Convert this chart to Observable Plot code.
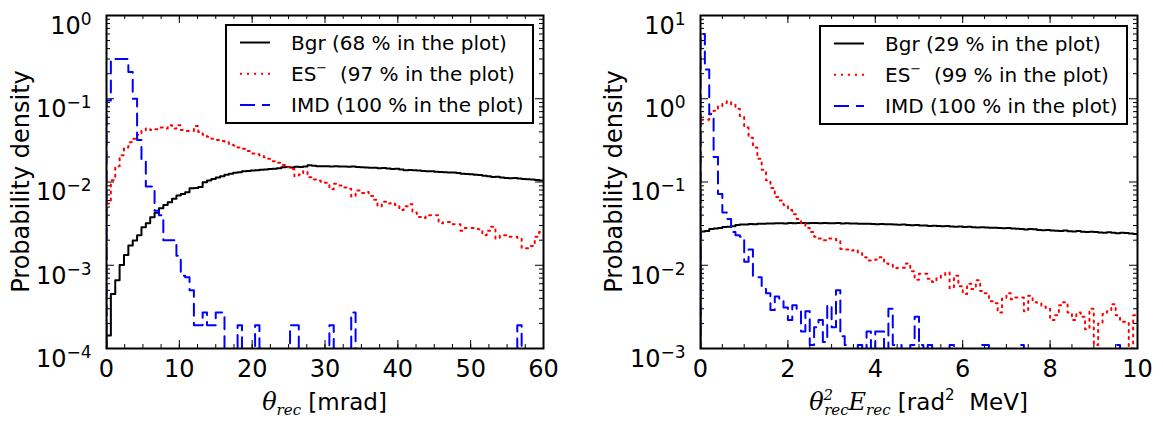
<!DOCTYPE html>
<html><head><meta charset="utf-8">
<script src="https://cdn.jsdelivr.net/npm/d3@7"></script>
<script src="https://cdn.jsdelivr.net/npm/@observablehq/plot@0.6"></script>
<style>
body{margin:0;background:#fff;}
#wrap{width:1163px;height:421px;display:flex;}
</style></head><body><div id="wrap"></div>
<script>
// ---------------- data ----------------
// Left panel: theta_rec [mrad], bins of 0.6 mrad from 0 to 60
const thetaBinWidth = 0.6;
const thetaBgr = [
 1.43e-4,4.5e-4,6.6e-4,1.01e-3,1.33e-3,1.73e-3,1.98e-3,2.3e-3,2.86e-3,3.2e-3,
 3.78e-3,4.26e-3,4.85e-3,5.3e-3,5.7e-3,6.3e-3,6.9e-3,7.2e-3,7.55e-3,8.4e-3,
 8.5e-3,8.7e-3,9.95e-3,1.04e-2,1.09e-2,1.13e-2,1.17e-2,1.22e-2,1.26e-2,1.29e-2,
 1.31e-2,1.35e-2,1.36e-2,1.37e-2,1.38e-2,1.40e-2,1.41e-2,1.43e-2,1.44e-2,1.46e-2,
 1.50e-2,1.51e-2,1.49e-2,1.52e-2,1.51e-2,1.53e-2,1.59e-2,1.57e-2,1.55e-2,1.55e-2,
 1.55e-2,1.54e-2,1.55e-2,1.54e-2,1.53e-2,1.52e-2,1.53e-2,1.51e-2,1.50e-2,1.49e-2,
 1.48e-2,1.48e-2,1.46e-2,1.47e-2,1.45e-2,1.43e-2,1.44e-2,1.41e-2,1.38e-2,1.39e-2,
 1.38e-2,1.37e-2,1.36e-2,1.35e-2,1.35e-2,1.33e-2,1.32e-2,1.31e-2,1.30e-2,1.30e-2,
 1.28e-2,1.26e-2,1.25e-2,1.24e-2,1.22e-2,1.21e-2,1.19e-2,1.17e-2,1.15e-2,1.16e-2,
 1.13e-2,1.12e-2,1.11e-2,1.12e-2,1.10e-2,1.09e-2,1.08e-2,1.07e-2,1.06e-2,1.04e-2];
const thetaES = [
 0.0055,0.0105,0.0155,0.021,0.026,0.030,0.033,0.037,0.041,0.044,
 0.042,0.043,0.045,0.044,0.048,0.044,0.048,0.042,0.041,0.041,
 0.047,0.040,0.037,0.035,0.033,0.032,0.031,0.030,0.028,0.0275,
 0.026,0.025,0.0235,0.022,0.0215,0.0205,0.0198,0.019,0.0178,0.017,
 0.016,0.015,0.0143,0.0117,0.0123,0.0135,0.0114,0.0107,0.0104,0.0101,
 0.0098,0.0082,0.0095,0.0091,0.0086,0.0083,0.0067,0.0079,0.0074,0.0076,
 0.0068,0.0061,0.0051,0.0058,0.0055,0.0056,0.0053,0.0046,0.0051,0.0054,
 0.0043,0.0038,0.0037,0.0040,0.0040,0.0040,0.0032,0.0033,0.0033,0.0031,
 0.0031,0.0026,0.0028,0.0028,0.0028,0.0027,0.0023,0.0026,0.0029,0.0021,
 0.0023,0.0023,0.0022,0.0022,0.0021,0.0016,0.0016,0.0017,0.0022,0.0025];
const thetaIMD = [
 0.095,0.30,0.30,0.30,0.30,0.21,0.10,0.032,0.018,0.0088,
 0.0088,0.0045,0.0040,0.0020,0.0020,0.0020,0.0013,0.00075,0.00072,0.0005,
 0.00019,0.00019,0.00027,0.00019,0.00019,0.00027,0.00027,0,0,0,
 0.00019,0,0,0,0.00019,0,0,0,0,0,
 0,0,0.00019,0.00019,0,0,0,0,0,0,
 0,0.00019,0,0,0,0,0.00027,0,0,0,
 0,0,0,0,0,0,0,0,0,0,
 0,0,0,0,0,0,0,0,0,0,
 0,0,0,0,0,0,0,0,0,0,
 0,0,0,0,0.00019,0,0,0,0,0];

// Right panel: theta^2 E [rad^2 MeV], bins of 0.1 from 0 to 10
const eBinWidth = 0.1;
const eBgr = [
 0.0255,0.0258,0.0272,0.0277,0.0280,0.0288,0.0291,0.0295,0.0305,0.0308,
 0.0309,0.0312,0.0311,0.0315,0.0316,0.0318,0.0317,0.0319,0.0320,0.0318,
 0.0321,0.0320,0.0322,0.0321,0.0320,0.0322,0.0321,0.0319,0.0321,0.0320,
 0.0319,0.0321,0.0318,0.0319,0.0317,0.0318,0.0316,0.0315,0.0316,0.0313,
 0.0311,0.0313,0.0310,0.0311,0.0309,0.0307,0.0308,0.0305,0.0302,0.0304,
 0.0301,0.0300,0.0297,0.0299,0.0296,0.0294,0.0296,0.0293,0.0291,0.0292,
 0.0289,0.0290,0.0287,0.0285,0.0287,0.0284,0.0282,0.0283,0.0280,0.0279,
 0.0281,0.0277,0.0275,0.0272,0.0268,0.0273,0.0271,0.0266,0.0264,0.0266,
 0.0262,0.0260,0.0257,0.0261,0.0256,0.0254,0.0257,0.0253,0.0250,0.0253,
 0.0250,0.0248,0.0246,0.0249,0.0246,0.0243,0.0245,0.0244,0.0241,0.0238];
const eES = [
 0.56,0.56,0.66,0.72,0.81,0.89,0.93,0.85,0.76,0.62,
 0.45,0.34,0.26,0.19,0.14,0.105,0.085,0.066,0.060,0.053,
 0.046,0.041,0.036,0.032,0.028,0.025,0.022,0.021,0.020,0.021,
 0.021,0.020,0.0157,0.0155,0.015,0.0153,0.0139,0.0125,0.0114,0.0114,
 0.0117,0.0125,0.0105,0.0102,0.0092,0.0093,0.0093,0.0105,0.0085,0.0067,
 0.0079,0.0079,0.0069,0.0063,0.0071,0.0076,0.0082,0.0053,0.0075,0.0056,
 0.0045,0.0060,0.0052,0.0066,0.0049,0.0046,0.0037,0.0035,0.0027,0.0040,
 0.0046,0.0039,0.0041,0.0041,0.0028,0.0043,0.0036,0.0035,0.0032,0.0030,
 0.0022,0.0025,0.0033,0.0036,0.0027,0.0022,0.0027,0.0024,0.0017,0.0030,
 0.0011,0.0020,0.0026,0.0028,0.0034,0.0025,0.0021,0.0021,0.0010,0.0025];
const eIMD = [
 6.0,2.25,0.65,0.20,0.072,0.043,0.036,0.025,0.023,0.022,
 0.011,0.0155,0.0072,0.0072,0.0052,0.0046,0.0029,0.0042,0.0040,0.0031,
 0.0022,0.0033,0.0030,0.0016,0.0028,0.0011,0.0018,0.0022,0.0012,0.0033,
 0.0018,0.0050,0.0014,0.0011,0,0,0.0011,0,0.0016,0,
 0.0016,0.0016,0,0.0030,0.0011,0.0011,0,0,0.0011,0.0024,
 0.0011,0,0.0011,0,0,0,0,0.0011,0,0,
 0,0,0,0,0.0011,0.0011,0,0,0,0,
 0,0,0,0.0011,0,0,0,0,0,0,
 0,0,0,0,0,0,0,0,0,0,
 0,0,0,0,0,0.0011,0,0,0,0];

const thetaTicks = [0,10,20,30,40,50,60];
const thetaMinor = d3.range(0, 60.01, 2.5);
const eTicks = [0,2,4,6,8,10];
const eMinor = d3.range(0, 10.01, 0.5);
const leftLegend = ["Bgr (68 % in the plot)", "  (97 % in the plot)", "IMD (100 % in the plot)"];
const rightLegend = ["Bgr (29 % in the plot)", "  (99 % in the plot)", "IMD (100 % in the plot)"];

// ---------------- drawing ----------------
const FONT = "DejaVu Sans";
function steps(vals, bw, low) {
  const pts = [{x: 0, y: low}];
  vals.forEach((v, i) => pts.push({x: i * bw, y: v > 0 ? v : low}));
  const last = vals[vals.length - 1];
  pts.push({x: vals.length * bw, y: last > 0 ? last : low});
  return pts;
}
function panel(o) {
  const H = 421 - 15 - 73;
  const W = o.width - o.marginLeft - o.marginRight;
  const e0 = Math.round(Math.log10(o.yDomain[0])), e1 = Math.round(Math.log10(o.yDomain[1]));
  const yMajor = d3.range(e0, e1 + 1).map(e => Math.pow(10, e));
  const yMinor = [];
  for (let e = e0; e < e1; e++) for (let k = 2; k <= 9; k++) yMinor.push(k * Math.pow(10, e));
  const low = o.yDomain[0] * 0.3;
  const svg = Plot.plot({
    width: o.width, height: 421,
    marginLeft: o.marginLeft, marginRight: o.marginRight, marginTop: 15, marginBottom: 73,
    style: {fontFamily: FONT, fontSize: "24px", background: "white", color: "black", overflow: "visible"},
    x: {domain: o.xDomain, ticks: o.xTicks, tickSize: 0, tickPadding: 11, label: null, tickFormat: d => String(d)},
    y: {type: "log", domain: o.yDomain, ticks: yMajor, tickSize: 0, tickPadding: 15, label: null,
        tickFormat: d => "10^" + Math.round(Math.log10(d))},
    marks: [
      Plot.ruleX(o.xTicks, {x: d => d, insetTop: H - 8, stroke: "black", strokeWidth: 1}),
      Plot.ruleX(o.xTicks, {x: d => d, insetBottom: H - 8, stroke: "black", strokeWidth: 1}),
      Plot.ruleX(o.xMinor, {x: d => d, insetTop: H - 4, stroke: "black", strokeWidth: 1}),
      Plot.ruleX(o.xMinor, {x: d => d, insetBottom: H - 4, stroke: "black", strokeWidth: 1}),
      Plot.ruleY(yMajor, {y: d => d, insetRight: W - 8, stroke: "black", strokeWidth: 1}),
      Plot.ruleY(yMajor, {y: d => d, insetLeft: W - 8, stroke: "black", strokeWidth: 1}),
      Plot.ruleY(yMinor, {y: d => d, insetRight: W - 4, stroke: "black", strokeWidth: 1}),
      Plot.ruleY(yMinor, {y: d => d, insetLeft: W - 4, stroke: "black", strokeWidth: 1}),
      Plot.line(steps(o.bgr, o.bw, low), {x: "x", y: "y", curve: "step-after", stroke: "black", strokeWidth: 2, clip: true}),
      Plot.line(steps(o.es, o.bw, low), {x: "x", y: "y", curve: "step-after", stroke: "#ff0000", strokeWidth: 2, strokeDasharray: "2,5", clip: true}),
      Plot.line(steps(o.imd, o.bw, low), {x: "x", y: "y", curve: "step-after", stroke: "#0000ff", strokeWidth: 2, strokeDasharray: "12,7", clip: true}),
      Plot.frame({stroke: "black", strokeWidth: 2})
    ]
  });
  const s = d3.select(svg);
  // superscripted y tick labels
  s.selectAll('g[aria-label="y-axis tick label"] text').each(function() {
    const parts = this.textContent.split("^");
    const t = d3.select(this);
    t.attr("dy", "0.45em");
    t.text(parts[0]);
    t.append("tspan").attr("dy", -9).attr("font-size", 17).text(parts[1].replace("-", "\u2212"));
  });
  // y label
  s.append("text").attr("transform", `translate(${o.ylabX},181.5) rotate(-90)`)
    .attr("text-anchor", "middle").attr("dominant-baseline", "central")
    .attr("font-family", FONT).attr("font-size", 24).text("Probability density");
  // x label
  const xl = s.append("text").attr("x", o.marginLeft + W / 2).attr("y", 410)
    .attr("text-anchor", "middle").attr("font-family", FONT).attr("font-size", 23)
    .style("white-space", "pre");
  o.xlabel(xl);
  // legend
  const lx = o.legendX, ly = o.legendY;
  s.append("rect").attr("x", lx).attr("y", ly).attr("width", 307).attr("height", 98)
    .attr("fill", "white").attr("stroke", "black").attr("stroke-width", 2);
  const rows = [
    {stroke: "black", dash: null},
    {stroke: "#ff0000", dash: "2,5"},
    {stroke: "#0000ff", dash: "15,7"}
  ];
  rows.forEach((r, i) => {
    const base = ly + 24.5 + i * 31.2;
    s.append("line").attr("x1", lx + 14).attr("x2", lx + 44).attr("y1", base - 7).attr("y2", base - 7)
      .attr("stroke", r.stroke).attr("stroke-width", 2).attr("stroke-dasharray", r.dash);
    const t = s.append("text").attr("x", lx + 65).attr("y", base).attr("text-anchor", "start")
      .attr("font-family", FONT).attr("font-size", 20).style("white-space", "pre");
    if (i === 1) {
      t.append("tspan").text("ES");
      t.append("tspan").attr("dy", -9).attr("font-size", 13).text("\u2212");
      t.append("tspan").attr("dy", 9).text(o.legend[i]);
    } else {
      t.text(o.legend[i]);
    }
  });
  return svg;
}

const wrap = document.getElementById("wrap");
wrap.appendChild(panel({
  width: 581, marginLeft: 106, marginRight: 38,
  xDomain: [0, 60], xTicks: thetaTicks, xMinor: thetaMinor,
  yDomain: [1e-4, 1], bw: thetaBinWidth,
  bgr: thetaBgr, es: thetaES, imd: thetaIMD,
  ylabX: 21, legendX: 226, legendY: 25, legend: leftLegend,
  xlabel: t => {
    t.append("tspan").attr("font-family", "DejaVu Serif").attr("font-style", "italic").attr("font-size", 24).text("\u03b8");
    t.append("tspan").attr("font-family", "DejaVu Serif").attr("font-style", "italic").attr("font-size", 15).attr("dy", 5).text("rec");
    t.append("tspan").attr("dy", -5).text(" [mrad]");
  }
}));
wrap.appendChild(panel({
  width: 582, marginLeft: 119, marginRight: 26,
  xDomain: [0, 10], xTicks: eTicks, xMinor: eMinor,
  yDomain: [1e-3, 10], bw: eBinWidth,
  bgr: eBgr, es: eES, imd: eIMD,
  ylabX: 33, legendX: 239, legendY: 26, legend: rightLegend,
  xlabel: t => {
    const serif = sel => sel.attr("font-family", "DejaVu Serif").attr("font-style", "italic");
    serif(t.append("tspan")).attr("font-size", 24).text("\u03b8");
    serif(t.append("tspan")).attr("font-size", 15).attr("dy", -10).text("2");
    serif(t.append("tspan")).attr("font-size", 15).attr("dy", 15).attr("dx", -9).text("rec");
    serif(t.append("tspan")).attr("font-size", 24).attr("dy", -5).text("E");
    serif(t.append("tspan")).attr("font-size", 15).attr("dy", 5).text("rec");
    t.append("tspan").attr("dy", -5).text(" [rad");
    t.append("tspan").attr("font-size", 15).attr("dy", -10).text("2");
    t.append("tspan").attr("dy", 10).text("  MeV]");
  }
}));
</script></body></html>
